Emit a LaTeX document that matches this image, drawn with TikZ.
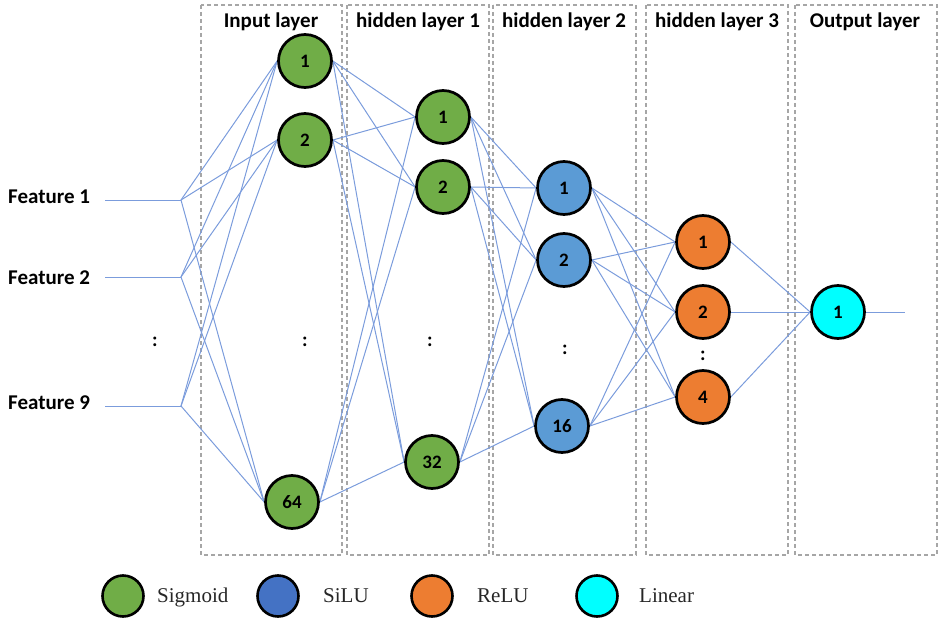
\documentclass[tikz,border=0pt]{standalone}
\usepackage{fontspec}
\setmainfont{Liberation Serif}
\newfontfamily\calib{Carlito}
\usetikzlibrary{backgrounds}
\definecolor{lineblue}{HTML}{7B9CDC}
\definecolor{ngreen}{HTML}{70AD47}
\definecolor{nblue}{HTML}{5B9BD5}
\definecolor{norange}{HTML}{ED7D31}
\definecolor{ncyan}{HTML}{00FFFF}
\definecolor{lblue}{HTML}{4472C4}
\definecolor{boxgray}{HTML}{A6A6A6}
\definecolor{legtext}{HTML}{262626}
\begin{document}
\begin{tikzpicture}[x=1pt,y=-1pt,
  neuron/.style={circle,draw=black,line width=2.7pt,minimum size=53pt,inner sep=0pt,font=\calib\bfseries\fontsize{19}{19}\selectfont},
  gnode/.style={neuron,fill=ngreen},
  bnode/.style={neuron,fill=nblue},
  onode/.style={neuron,fill=norange},
  cnode/.style={neuron,fill=ncyan},
  legcirc/.style={circle,draw=black,line width=2.6pt,minimum size=41pt,inner sep=0pt},
  legtxt/.style={anchor=base west,inner sep=0pt,text=legtext,font=\fontsize{21}{21}\selectfont},
  conn/.style={draw=lineblue,line width=1pt},
  layerbox/.style={draw=boxgray,line width=1.1pt,dash pattern=on 4pt off 3pt},
  title/.style={inner sep=0pt,font=\calib\bfseries\fontsize{21}{21}\selectfont},
  feat/.style={anchor=west,inner sep=0pt,font=\calib\bfseries\fontsize{21}{21}\selectfont},
  vdots/.style={inner sep=0pt,font=\calib\bfseries\fontsize{20}{20}\selectfont}]
\useasboundingbox (0,0) rectangle (945,623);

% titles
\node[title] (t1) at (271,22) {Input layer};
\node[title] (t2) at (418,22) {hidden layer 1};
\node[title] (t3) at (564,22) {hidden layer 2};
\node[title] (t4) at (717,22) {hidden layer 3};
\node[title] (t5) at (865,22) {Output layer};

% features
\node[feat] (f1) at (8,197) {Feature 1};
\node[feat] (f2) at (8,278) {Feature 2};
\node[feat] (f9) at (8,403) {Feature 9};
\coordinate (s1) at (105,200);
\coordinate (s2) at (105,277);
\coordinate (s3) at (105,406);
\coordinate (b1) at (181,200);
\coordinate (b2) at (181,277);
\coordinate (b3) at (181,406);

% neurons
\node[gnode] (i1) at (305,61) {1};
\node[gnode] (i2) at (305,140) {2};
\node[gnode] (i3) at (292,502) {64};
\node[gnode] (ha1) at (443,117) {1};
\node[gnode] (ha2) at (443,187) {2};
\node[gnode] (ha3) at (432,462) {32};
\node[bnode] (hb1) at (564,188) {1};
\node[bnode] (hb2) at (564,260) {2};
\node[bnode] (hb3) at (562,426) {16};
\node[onode] (hc1) at (703,242) {1};
\node[onode] (hc2) at (703,312) {2};
\node[onode] (hc3) at (703,397) {4};
\node[cnode] (o1) at (838,312) {1};
\coordinate (oend) at (905,312);

% dots
\node[vdots] (d0) at (155,342) {:};
\node[vdots] (d1) at (305,342) {:};
\node[vdots] (d2) at (430,342) {:};
\node[vdots] (d3) at (565,350) {:};
\node[vdots] (d4) at (703,356) {:};

% legend
\node[legcirc,fill=ngreen] (l1) at (123,596) {};
\node[legtxt] (lt1) at (157,602) {Sigmoid};
\node[legcirc,fill=lblue] (l2) at (278,596) {};
\node[legtxt] (lt2) at (323,602) {SiLU};
\node[legcirc,fill=norange] (l3) at (432,596) {};
\node[legtxt] (lt3) at (477,602) {ReLU};
\node[legcirc,fill=ncyan] (l4) at (597,596) {};
\node[legtxt] (lt4) at (639,602) {Linear};

\begin{pgfonlayer}{background}
  % layer boxes
  \draw[layerbox] (201,5) rectangle (342,555);
  \draw[layerbox] (347,5) rectangle (489,555);
  \draw[layerbox] (493,5) rectangle (636,555);
  \draw[layerbox] (646,5) rectangle (788,555);
  \draw[layerbox] (795,5) rectangle (937,555);
  % feature lines
  \draw[conn] (s1) -- (b1);
  \draw[conn] (s2) -- (b2);
  \draw[conn] (s3) -- (b3);
  \foreach \b in {b1,b2,b3}
    \foreach \n in {i1,i2,i3}
      \draw[conn] (\b) -- (\n.west);
  \foreach \a in {i1,i2,i3}
    \foreach \n in {ha1,ha2,ha3}
      \draw[conn] (\a.east) -- (\n.west);
  \foreach \a in {ha1,ha2,ha3}
    \foreach \n in {hb1,hb2,hb3}
      \draw[conn] (\a.east) -- (\n.west);
  \foreach \a in {hb1,hb2,hb3}
    \foreach \n in {hc1,hc2,hc3}
      \draw[conn] (\a.east) -- (\n.west);
  \foreach \a in {hc1,hc2,hc3}
    \draw[conn] (\a.east) -- (o1.west);
  \draw[conn] (o1.east) -- (oend);
\end{pgfonlayer}
\end{tikzpicture}
\end{document}
